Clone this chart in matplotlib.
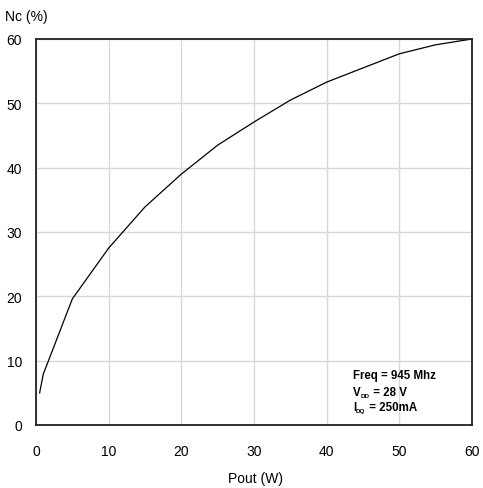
import matplotlib
matplotlib.use("Agg")
import matplotlib.pyplot as plt

plt.rcParams['font.family'] = ['Liberation Sans', 'DejaVu Sans']

pout = [0.5, 1, 5, 10, 15, 20, 25, 30, 35, 40, 45, 50, 55, 60]
nc = [5.0, 7.9, 19.6, 27.5, 33.9, 39.0, 43.5, 47.1, 50.5, 53.3, 55.5, 57.7, 59.1, 60.0]
xticks = [0, 10, 20, 30, 40, 50, 60]
yticks = [0, 10, 20, 30, 40, 50, 60]

fig = plt.figure(figsize=(4.83, 4.89), dpi=100)
ax = fig.add_axes([36/483, 1-426/489, (472-36)/483, (426-40)/489])
ax.plot(pout, nc, color='black', lw=0.9)
ax.set_xlim(0, 60)
ax.set_ylim(0, 60)
ax.set_xticks(xticks)
ax.set_yticks(yticks)
ax.grid(True, color='#d8d8d8', lw=1.0)
ax.set_axisbelow(True)
ax.tick_params(length=0, labelsize=10)
ax.tick_params(axis='y', pad=10)
ax.tick_params(axis='x', pad=13.5)
for s in ax.spines.values():
    s.set_linewidth(1.3)
    s.set_color('#222222')
fig.text(256/483, 1-483/489, 'Pout (W)', fontsize=10, va='baseline', ha='center')
fig.text(5/483, 1-17/489, 'Nc (%)', fontsize=10, va='center', ha='left')

fs = 8.3
x0 = 353/483
t1 = fig.text(x0, 1-379/489, 'Freq = 945 Mhz', fontsize=fs, fontweight='bold', va='baseline')
t2 = fig.text(x0, 1-396/489, 'V', fontsize=fs, fontweight='bold', va='baseline')
t2b = ax.annotate('DD', xy=(1, 0), xycoords=t2, fontsize=4.5, fontweight='bold', va='bottom', ha='left')
ax.annotate(' = 28 V', xy=(1, 0), xycoords=t2b, fontsize=fs, fontweight='bold', va='bottom', ha='left')
t3 = fig.text(x0, 1-411/489, 'I', fontsize=fs, fontweight='bold', va='baseline')
t3b = ax.annotate('DQ', xy=(1, 0), xycoords=t3, fontsize=4.5, fontweight='bold', va='bottom', ha='left')
ax.annotate(' = 250mA', xy=(1, 0), xycoords=t3b, fontsize=fs, fontweight='bold', va='bottom', ha='left')

fig.savefig('out.png', dpi=100)
